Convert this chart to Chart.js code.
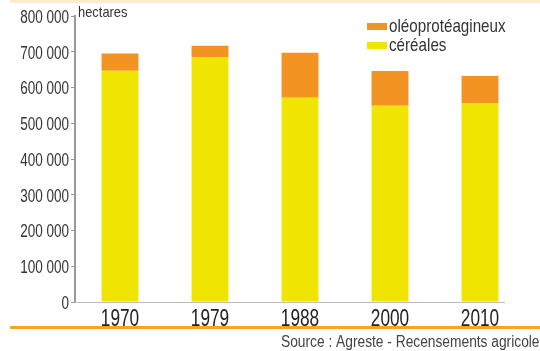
<!DOCTYPE html>
<html><head><meta charset="utf-8">
<script src="https://cdn.jsdelivr.net/npm/chart.js@4"></script>
<style>html,body{margin:0;padding:0;background:#fff;}#wrap{position:relative;width:540px;height:351px;}</style>
</head><body><div id="wrap"><canvas id="c" width="540" height="351"></canvas></div>
<script>
const categories = ['1970', '1979', '1988', '2000', '2010'];
const cereales = [647000, 685000, 571000, 549000, 555000];
const oleoproteagineux = [48000, 32000, 126000, 97000, 77000];
const seriesLabels = ['céréales', 'oléoprotéagineux'];
const yTickValues = [0, 100000, 200000, 300000, 400000, 500000, 600000, 700000, 800000];
const unitLabel = 'hectares';
const sourceText = 'Source : Agreste - Recensements agricoles';

const FONT = "'Liberation Sans', Arial, sans-serif";
const YELLOW = '#F0E500';
const ORANGE = '#F39422';
const CONDENSE = 0.75;

function fmt(v) { return String(v).replace(/\B(?=(\d{3})+(?!\d))/g, ' '); }

// draw text horizontally condensed (like a narrow face) using fillText maxWidth
function narrowText(ctx, text, x, y, factor) {
  const w = ctx.measureText(text).width;
  ctx.fillText(text, x, y, w * factor);
}

const narrowTicks = {
  id: 'narrowTicks',
  beforeDraw(chart) {
    const ctx = chart.ctx;
    Object.values(chart.scales).forEach(scale => {
      const items = scale.getLabelItems(chart.chartArea);
      items.forEach(it => {
        ctx.save();
        ctx.font = it.font.string;
        const lbl = Array.isArray(it.label) ? it.label.join(' ') : it.label;
        const w = ctx.measureText(String(lbl)).width;
        ctx.restore();
        it.options.maxWidth = w * CONDENSE;
      });
    });
  }
};

const deco = {
  id: 'deco',
  afterDraw(chart) {
    const ctx = chart.ctx, a = chart.chartArea;
    ctx.save();
    ctx.fillStyle = '#FDEBCB';
    ctx.fillRect(10, 0, 530, 3);
    ctx.fillStyle = '#F5A81C';
    ctx.fillRect(10, 326, 530, 3);
    ctx.strokeStyle = '#BBBBBB';
    ctx.lineWidth = 1;
    ctx.beginPath();
    ctx.moveTo(a.left, a.bottom + 0.5);
    ctx.lineTo(505, a.bottom + 0.5);
    ctx.stroke();
    ctx.fillStyle = '#333';
    ctx.textBaseline = 'alphabetic';
    ctx.textAlign = 'left';
    ctx.font = '15px ' + FONT;
    narrowText(ctx, unitLabel, 78, 17, 0.86);
    // legend (top series first)
    const ds = chart.data.datasets;
    const order = [1, 0];
    ctx.font = '19px ' + FONT;
    order.forEach((i, k) => {
      const y = 26.5 + k * 19;
      ctx.fillStyle = ds[i].backgroundColor;
      ctx.fillRect(367, y - 3.5, 20, 7);
      ctx.fillStyle = '#333';
      narrowText(ctx, ds[i].label, 389, y + 5.5, 0.8);
    });
    ctx.font = '16px ' + FONT;
    ctx.fillStyle = '#444';
    narrowText(ctx, sourceText, 281, 346.5, 0.86);
    ctx.restore();
  }
};

new Chart(document.getElementById('c'), {
  type: 'bar',
  data: {
    labels: categories,
    datasets: [
      { label: seriesLabels[0], data: cereales, backgroundColor: YELLOW, stack: 's' },
      { label: seriesLabels[1], data: oleoproteagineux, backgroundColor: ORANGE, stack: 's' }
    ]
  },
  options: {
    responsive: false,
    animation: false,
    devicePixelRatio: 1,
    layout: { padding: { top: 16, right: 15, bottom: 0, left: 0 } },
    plugins: { legend: { display: false }, tooltip: { enabled: false } },
    datasets: { bar: { categoryPercentage: 1, barPercentage: 0.41 } },
    scales: {
      x: {
        stacked: true,
        grid: { display: false, drawTicks: false },
        border: { display: false },
        ticks: { font: { family: FONT, size: 23 }, color: '#222', padding: 4 },
        afterFit(s) { s.height = 49; }
      },
      y: {
        stacked: true,
        min: 0, max: 800000,
        afterBuildTicks(s) { s.ticks = yTickValues.map(v => ({ value: v })); },
        grid: { drawOnChartArea: false, drawTicks: true, tickLength: 4, color: '#999' },
        border: { color: '#999', width: 2 },
        ticks: { font: { family: FONT, size: 18 }, color: '#333', padding: 2, labelOffset: 2, callback: v => fmt(v) },
        afterFit(s) { s.width = 75; }
      }
    }
  },
  plugins: [narrowTicks, deco]
});
</script></body></html>
